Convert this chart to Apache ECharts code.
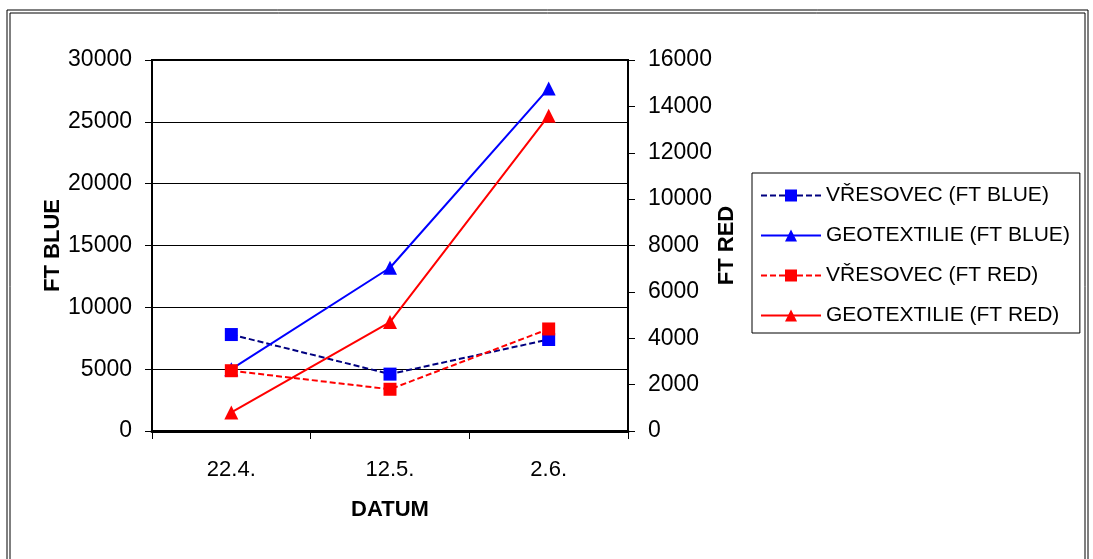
<!DOCTYPE html>
<html>
<head>
<meta charset="utf-8">
<script src="https://cdn.jsdelivr.net/npm/echarts@6/dist/echarts.min.js"></script>
<style>
html,body{margin:0;padding:0;background:#fff;}
#chart{width:1093px;height:559px;}
</style>
</head>
<body>
<div id="chart"></div>
<script>
var categories = ['22.4.', '12.5.', '2.6.'];
var vresovecBlue = [7800, 4600, 7400];
var geotextilieBlue = [5000, 13200, 27700];
var vresovecRed = [2600, 1800, 4400];
var geotextilieRed = [800, 4700, 13600];
var seriesNames = ['VŘESOVEC (FT BLUE)', 'GEOTEXTILIE (FT BLUE)', 'VŘESOVEC (FT RED)', 'GEOTEXTILIE (FT RED)'];

var FONT = 'Liberation Sans, Arial, sans-serif';
var plain = function (v) { return String(v); };
var chart = echarts.init(document.getElementById('chart'), null, {renderer: 'canvas'});
chart.setOption({
  animation: false,
  backgroundColor: '#fff',
  graphic: [
    {type: 'rect', shape: {x: 7, y: 10, width: 1081, height: 600}, style: {fill: 'none', stroke: '#000', lineWidth: 1}},
    {type: 'rect', shape: {x: 10, y: 13, width: 1075, height: 600}, style: {fill: 'none', stroke: '#000', lineWidth: 1}}
  ],
  grid: {left: 152, right: 465, top: 60, bottom: 128, show: true, borderColor: '#000', borderWidth: 2, backgroundColor: 'transparent'},
  legend: {
    orient: 'vertical', left: 752, top: 173,
    padding: [12, 10, 7, 8],
    itemWidth: 60, itemHeight: 15, itemGap: 19,
    borderColor: '#000', borderWidth: 1,
    textStyle: {fontFamily: FONT, fontSize: 21, color: '#000'},
    data: seriesNames
  },
  xAxis: {
    type: 'category', data: categories, boundaryGap: true,
    name: 'DATUM', nameLocation: 'middle', nameGap: 68,
    nameTextStyle: {fontFamily: FONT, fontSize: 22, fontWeight: 'bold', color: '#000'},
    axisLine: {lineStyle: {color: '#000', width: 3}},
    axisTick: {show: true, length: 8, lineStyle: {color: '#000', width: 1}},
    axisLabel: {fontFamily: FONT, fontSize: 22, color: '#000', margin: 28}
  },
  yAxis: [
    {
      type: 'value', min: 0, max: 30000, interval: 5000, position: 'left',
      name: 'FT BLUE', nameLocation: 'middle', nameGap: 79, nameRotate: 90,
      nameTextStyle: {fontFamily: FONT, fontSize: 22, fontWeight: 'bold', color: '#000'},
      axisLine: {show: true, lineStyle: {color: '#000', width: 2}},
      axisTick: {show: true, length: 7, lineStyle: {color: '#000'}},
      axisLabel: {fontFamily: FONT, fontSize: 23, color: '#000', margin: 20, formatter: plain},
      splitLine: {show: true, lineStyle: {color: '#000', width: 1}}
    },
    {
      type: 'value', min: 0, max: 16000, interval: 2000, position: 'right',
      name: 'FT RED', nameLocation: 'middle', nameGap: 85, nameRotate: 90,
      nameTextStyle: {fontFamily: FONT, fontSize: 22, fontWeight: 'bold', color: '#000'},
      axisLine: {show: true, lineStyle: {color: '#000', width: 2}},
      axisTick: {show: true, length: 7, lineStyle: {color: '#000'}},
      axisLabel: {fontFamily: FONT, fontSize: 23, color: '#000', margin: 20, formatter: plain},
      splitLine: {show: false}
    }
  ],
  series: [
    {
      name: seriesNames[0], type: 'line', yAxisIndex: 0, data: vresovecBlue,
      symbol: 'rect', symbolSize: 13,
      itemStyle: {color: '#0000FF'},
      lineStyle: {color: '#000080', width: 2, type: [6, 3]}
    },
    {
      name: seriesNames[1], type: 'line', yAxisIndex: 0, data: geotextilieBlue,
      symbol: 'triangle', symbolSize: 14,
      itemStyle: {color: '#0000FF'},
      lineStyle: {color: '#0000FF', width: 2}
    },
    {
      name: seriesNames[2], type: 'line', yAxisIndex: 1, data: vresovecRed,
      symbol: 'rect', symbolSize: 13,
      itemStyle: {color: '#FF0000'},
      lineStyle: {color: '#FF0000', width: 2, type: [6, 3]}
    },
    {
      name: seriesNames[3], type: 'line', yAxisIndex: 1, data: geotextilieRed,
      symbol: 'triangle', symbolSize: 14,
      itemStyle: {color: '#FF0000'},
      lineStyle: {color: '#FF0000', width: 2}
    }
  ]
});
</script>
</body>
</html>
